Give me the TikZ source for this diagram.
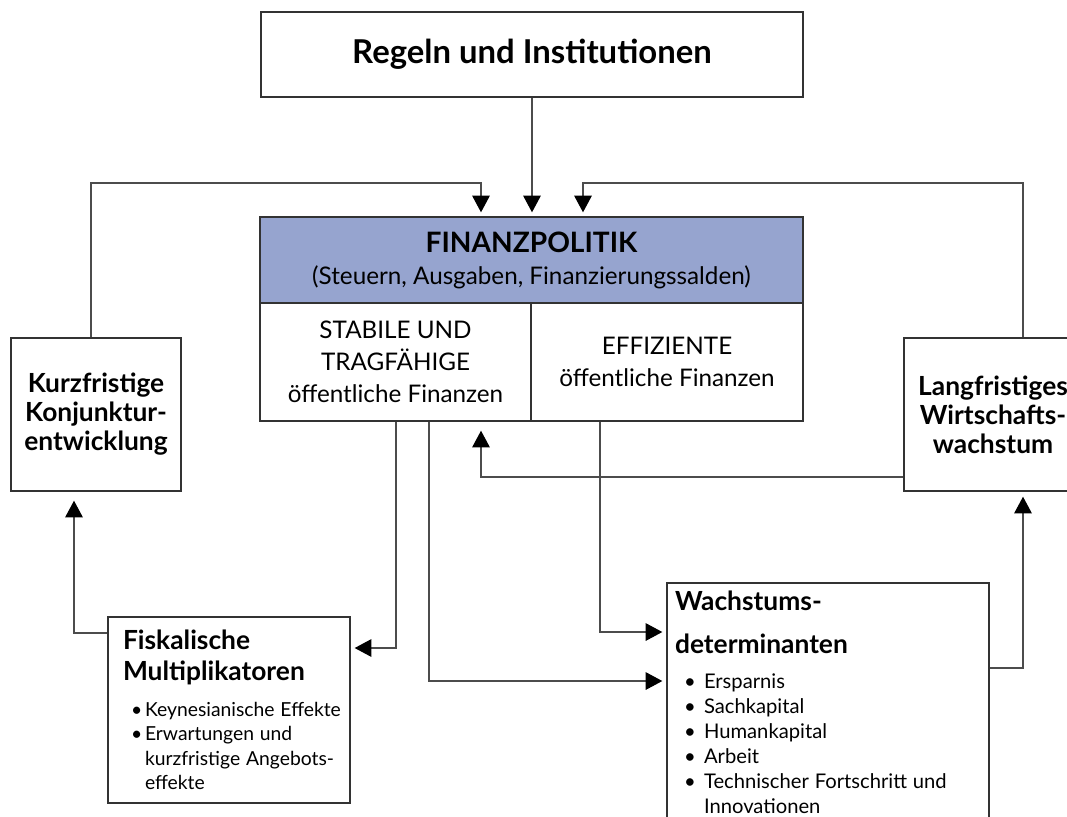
\documentclass[tikz,border=0pt]{standalone}
\usepackage{fontspec}
\setmainfont{Lato}
\usepackage{tikz}
\usetikzlibrary{arrows.meta,calc}

\definecolor{fpblue}{RGB}{150,164,207}
\setlength{\parindent}{0pt}
\hyphenpenalty=10000
\exhyphenpenalty=10000
\newcommand{\blt}[1]{\makebox[#1][l]{\textbullet}}

\tikzset{
  box/.style={draw=black!80, line width=0.8pt, fill=white, inner sep=0pt, align=center},
  arr/.style={draw=black!70, line width=0.7pt, -{Triangle[width=10pt,length=9.5pt,color=black]}, shorten >=0.08cm},
}

\begin{document}
\begin{tikzpicture}[x=0.02cm, y=-0.02cm]
    \clip (0,0) rectangle (1067,816);
    % Rules at the top
    \node[box, minimum width=10.84cm, minimum height=1.70cm, font=\fontsize{18.7}{22}\selectfont\bfseries] (regeln) at (532,54.5) {Regeln und Institutionen};
    % Fiscal policy block
    \node[box, fill=fpblue, minimum width=10.86cm, minimum height=1.72cm, font=\fontsize{13.8}{18.2}\selectfont] (head) at (531.5,260)
      {{\fontsize{16}{18}\selectfont\bfseries FINANZPOLITIK}\\(Steuern, Ausgaben, Finanzierungssalden)};
    \node[box, minimum width=5.42cm, minimum height=2.36cm, font=\fontsize{13.8}{18.2}\selectfont] (stabile) at (395.5,362)
      {STABILE UND\\TRAGFÄHIGE\\öffentliche Finanzen};
    \node[box, minimum width=5.44cm, minimum height=2.36cm, font=\fontsize{13.8}{18.2}\selectfont] (effiz) at (667,362)
      {EFFIZIENTE\\öffentliche Finanzen};
    % Side boxes
    \node[box, minimum width=3.40cm, minimum height=3.06cm, font=\fontsize{15}{16.5}\selectfont\bfseries] (kurz) at (96,414.5)
      {Kurzfristige\\Konjunktur-\\entwicklung};
    \node[box, minimum width=3.56cm, minimum height=3.06cm, font=\fontsize{15}{16.5}\selectfont\bfseries] (lang) at (993,414.5)
      {Langfristiges\\Wirtschafts-\\wachstum};
    % Lower boxes
    \node[box, align=left, inner xsep=0.02cm, text width=4.80cm, minimum height=3.72cm] (fiskal) at (229,710) {%
      \leftskip=0.28cm
      {\fontsize{15}{17.6}\selectfont\bfseries Fiskalische\\Multiplikatoren\par}
      \vspace{6.5pt}
      {\fontsize{11}{13.9}\selectfont
      \hspace*{0.16cm}\blt{0.28cm}Keynesianische Effekte\\
      \hspace*{0.16cm}\blt{0.28cm}Erwartungen und\\
      \hspace*{0.44cm}kurzfristige Angebots-\\
      \hspace*{0.44cm}effekte\par}};
    \node[box, align=left, inner xsep=0.16cm, text width=6.12cm, minimum height=4.76cm] (wachs) at (828,702) {%
      {\fontsize{15}{24.5}\selectfont\bfseries Wachstums-\\determinanten\par}
      \vspace{5.7pt}
      {\fontsize{11.5}{14.2}\selectfont
      \hspace*{0.18cm}\blt{0.40cm}Ersparnis\\
      \hspace*{0.18cm}\blt{0.40cm}Sachkapital\\
      \hspace*{0.18cm}\blt{0.40cm}Humankapital\\
      \hspace*{0.18cm}\blt{0.40cm}Arbeit\\
      \hspace*{0.18cm}\blt{0.40cm}Technischer Fortschritt und\\
      \hspace*{0.58cm}Innovationen\par}};
    % Connectors
    \draw[arr] (regeln.south) -- (regeln.south |- head.north);
    \draw[arr] ([xshift=-0.1cm]kurz.north) |- (481,183) -- (head.north -| 481,0);
    \draw[arr] ([xshift=0.6cm]lang.north) |- (583,183) -- (head.north -| 583,0);
    \draw[arr, shorten >=0.18cm] (lang.west |- 0,477) -| (stabile.south -| 481,0);
    \draw[arr] (stabile.south -| 396,0) |- (fiskal.east |- 0,648);
    \draw[arr] (stabile.south -| 429,0) |- (wachs.west |- 0,681);
    \draw[arr] (effiz.south -| 600,0) |- (wachs.west |- 0,632);
    \draw[arr, shorten >=0.1cm] (wachs.east |- 0,668) -| (lang.south -| 1023,0);
    \draw[arr, shorten >=0.18cm] (fiskal.west |- 0,633) -| (kurz.south -| 74,0);
\end{tikzpicture}
\end{document}
